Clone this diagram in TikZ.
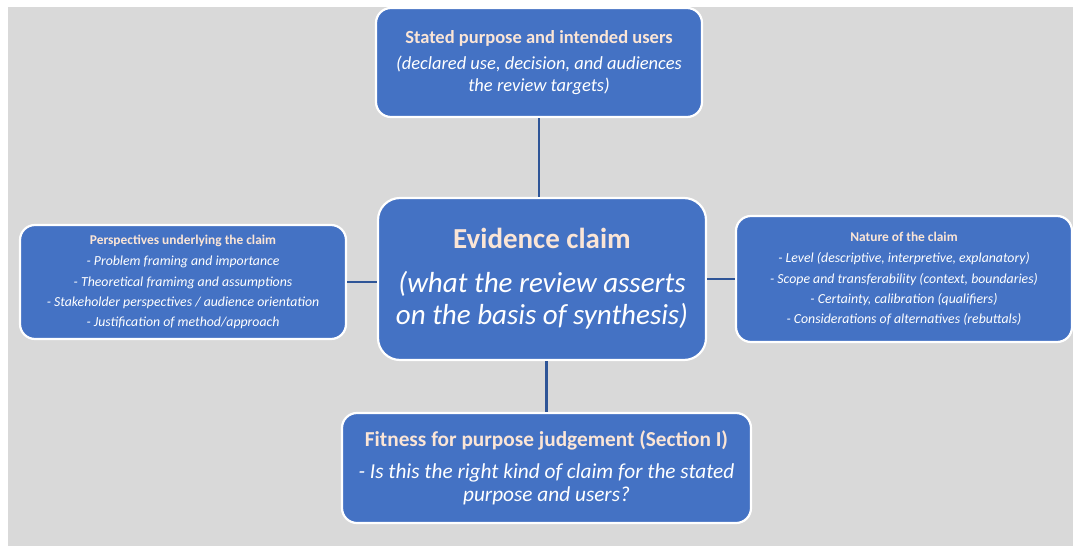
\documentclass[tikz,border=0pt]{standalone}
\usepackage{fontspec}
\setmainfont{Carlito}
\usetikzlibrary{calc}
\definecolor{bggray}{HTML}{D9D9D9}
\definecolor{boxblue}{HTML}{4472C4}
\definecolor{peach}{HTML}{FBE5D6}
\definecolor{linkblue}{HTML}{2F5597}
\tikzset{
  card/.style={draw=white, line width=2.2pt, fill=boxblue, rounded corners=15pt,
    align=center, text=white, inner sep=0pt},
  link/.style={draw=linkblue, line width=2.6pt},
}
\newcommand{\hd}[1]{{\bfseries\color{peach}#1}}
\begin{document}
\begin{tikzpicture}[x=1pt,y=-1pt]
  \useasboundingbox (0,0) rectangle (1073,546);
  \fill[bggray] (8,7) rectangle (1073,546);

  % outer topics around the central claim
  \node[card, minimum width=326pt, minimum height=109pt,
        font=\fontsize{18.5}{21.5}\selectfont] (purpose) at (539,62.5)
    {\hd{Stated purpose and intended users}\\[5pt]
     \itshape (declared use, decision, and audiences\\
     \itshape the review targets)};

  \node[card, minimum width=328pt, minimum height=162pt, rounded corners=22pt,
        font=\fontsize{29}{32}\selectfont] (claim) at (542,279)
    {\hd{Evidence claim}\\[12pt]
     \itshape (what the review asserts\\
     \itshape on the basis of synthesis)};

  \node[card, minimum width=326pt, minimum height=114pt,
        font=\fontsize{13.8}{20.3}\selectfont] (persp) at (183,282)
    {\hd{\fontsize{13.4}{20.3}\selectfont Perspectives underlying the claim}\\[1pt]
     \itshape - Problem framing and importance\\
     \itshape - Theoretical framimg and assumptions\\
     \itshape - Stakeholder perspectives / audience orientation\\
     \itshape - Justification of method/approach};

  \node[card, minimum width=336pt, minimum height=126pt,
        font=\fontsize{13.8}{20.3}\selectfont] (nature) at (904,279)
    {\hd{\fontsize{13.4}{20.3}\selectfont Nature of the claim}\\[1pt]
     \itshape - Level (descriptive, interpretive, explanatory)\\
     \itshape - Scope and transferability (context, boundaries)\\
     \itshape - Certainty, calibration (qualifiers)\\
     \itshape - Considerations of alternatives (rebuttals)};

  \node[card, minimum width=409pt, minimum height=110pt,
        font=\fontsize{21.3}{23}\selectfont] (fitness) at (546.5,468)
    {\hd{Fitness for purpose judgement (Section I)}\\[9pt]
     \itshape - Is this the right kind of claim for the stated\\
     \itshape purpose and users?};

  % connectors from the claim to each topic
  \draw[link] (purpose.south) -- (purpose.south |- claim.north);
  \draw[link] (fitness.north) -- (fitness.north |- claim.south);
  \draw[link] (persp.east) -- (persp.east -| claim.west);
  \draw[link] (nature.west) -- (nature.west -| claim.east);
\end{tikzpicture}
\end{document}
